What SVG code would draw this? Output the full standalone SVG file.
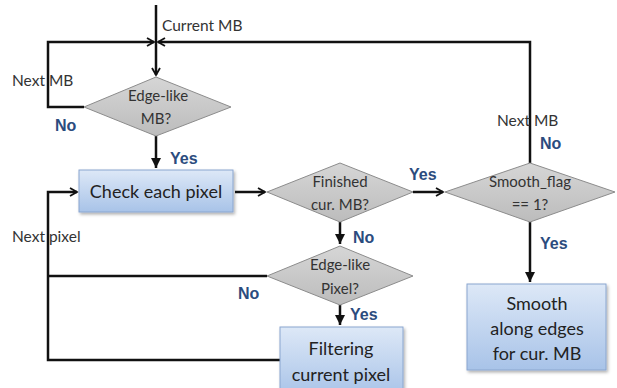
<svg xmlns="http://www.w3.org/2000/svg" width="617" height="388" viewBox="0 0 617 388">
<style>
.ln{fill:none;stroke:#111;stroke-width:2.5}
.box{fill:url(#bg);stroke:#8aa6cf;stroke-width:1}
.dia{fill:url(#dg);stroke:#8c8c8c;stroke-width:1}
.bt{font-family:Lato,"Liberation Sans",sans-serif;font-size:18px;fill:#222;text-anchor:middle}
.dt{font-family:Lato,"Liberation Sans",sans-serif;font-size:15px;fill:#333;text-anchor:middle}
.yn{font-family:"Liberation Sans",sans-serif;font-size:16px;font-weight:bold;fill:#2b4c7e}
.lb{font-family:Lato,"Liberation Sans",sans-serif;font-size:15.5px;fill:#333}
</style>
<defs>
<linearGradient id="bg" x1="0" y1="0" x2="0" y2="1">
<stop offset="0" stop-color="#dde8f7"/>
<stop offset="1" stop-color="#a8c3e8"/>
</linearGradient>
<linearGradient id="dg" x1="0" y1="0" x2="0" y2="1">
<stop offset="0" stop-color="#d6d6d6"/>
<stop offset="1" stop-color="#bcbcbc"/>
</linearGradient>
<filter id="sh" x="-10%" y="-10%" width="130%" height="140%">
<feDropShadow dx="1.5" dy="2" stdDeviation="1.5" flood-color="#000" flood-opacity="0.3"/>
</filter>
<marker id="ah" markerWidth="10" markerHeight="10" refX="8" refY="5" orient="auto" markerUnits="userSpaceOnUse">
<path d="M1,1 L8,5 L1,9" fill="none" stroke="#111" stroke-width="1.8"/>
</marker>
<marker id="af" markerWidth="12" markerHeight="12" refX="10" refY="6" orient="auto" markerUnits="userSpaceOnUse">
<path d="M0,1 L10,6 L0,11 Z" fill="#111"/>
</marker>
</defs>

<g id="connectors">
<path class="ln" d="M156,5 V75" marker-end="url(#ah)"/>
<path class="ln" d="M84,107 H48 V42 H154" marker-end="url(#ah)"/>
<path class="ln" d="M530,163 V42 H158" marker-end="url(#ah)"/>
<path class="ln" d="M156,136 V168" marker-end="url(#af)"/>
<path class="ln" d="M235,192 H265" marker-end="url(#ah)"/>
<path class="ln" d="M413,192 H443" marker-end="url(#ah)"/>
<path class="ln" d="M340,222 V244" marker-end="url(#af)"/>
<path class="ln" d="M530,222 V282" marker-end="url(#af)"/>
<path class="ln" d="M340,305 V325" marker-end="url(#af)"/>
<path class="ln" d="M267,276 H48"/>
<path class="ln" d="M280,360 H48 V192 H77" marker-end="url(#ah)"/>
</g>

<g id="n_edge_mb">
<polygon class="dia" points="156,77 231,107 156,136 84,107"/>
<text class="dt" x="158" y="101">Edge-like</text>
<text class="dt" x="156" y="124">MB?</text>
</g>

<g id="n_check">
<rect class="box" x="79" y="170" width="154" height="42" filter="url(#sh)"/>
<text class="bt" x="156" y="198">Check each pixel</text>
</g>

<g id="n_finished">
<polygon class="dia" points="340,163 413,192 340,222 267,192"/>
<text class="dt" x="340" y="187">Finished</text>
<text class="dt" x="340" y="210">cur. MB?</text>
</g>

<g id="n_smooth_flag">
<polygon class="dia" points="530,163 615,192 530,222 445,192"/>
<text class="dt" x="530" y="187">Smooth_flag</text>
<text class="dt" x="530" y="210">== 1?</text>
</g>

<g id="n_edge_pixel">
<polygon class="dia" points="340,246 413,276 340,305 267,276"/>
<text class="dt" x="340" y="270">Edge-like</text>
<text class="dt" x="340" y="294">Pixel?</text>
</g>

<g id="n_filtering">
<rect class="box" x="280" y="327" width="123" height="70" filter="url(#sh)"/>
<text class="bt" x="341" y="355">Filtering</text>
<text class="bt" x="341" y="381">current pixel</text>
</g>

<g id="n_smooth">
<rect class="box" x="467" y="284" width="139" height="86" filter="url(#sh)"/>
<text class="bt" x="537" y="310">Smooth</text>
<text class="bt" x="537" y="335">along edges</text>
<text class="bt" x="537" y="360">for cur. MB</text>
</g>

<g id="labels">
<text class="lb" x="162" y="31">Current MB</text>
<text class="lb" x="12" y="86">Next MB</text>
<text class="lb" x="497" y="126">Next MB</text>
<text class="lb" x="12" y="242">Next pixel</text>
<text class="yn" x="55" y="131">No</text>
<text class="yn" x="170" y="164">Yes</text>
<text class="yn" x="409" y="180">Yes</text>
<text class="yn" x="540" y="149">No</text>
<text class="yn" x="353" y="243">No</text>
<text class="yn" x="540" y="249">Yes</text>
<text class="yn" x="238" y="299">No</text>
<text class="yn" x="350" y="320">Yes</text>
</g>
</svg>
